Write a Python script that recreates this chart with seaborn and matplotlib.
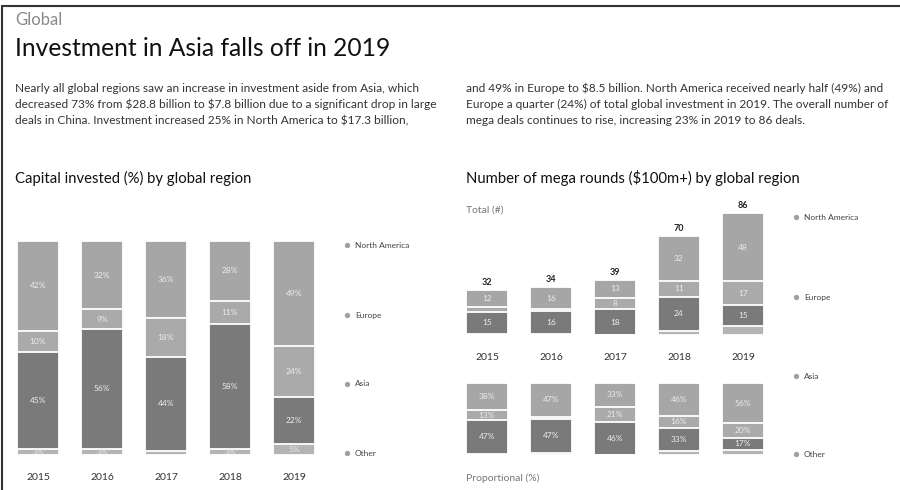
import numpy as np
import pandas as pd
import matplotlib
matplotlib.use('Agg')
import matplotlib.pyplot as plt
import seaborn as sns
from matplotlib.lines import Line2D

# years on every chart
years = ['2015', '2016', '2017', '2018', '2019']

# capital invested (%) by region
cap_na = [42, 32, 36, 28, 49]
cap_eu = [10, 9, 18, 11, 24]
cap_asia = [45, 56, 44, 58, 22]
cap_other = [3, 3, 2, 3, 5]

# number of mega rounds by region
deals_total = [32, 34, 39, 70, 86]
deals_na = [12, 16, 13, 32, 48]
deals_eu = [4, 1, 8, 11, 17]
deals_asia = [15, 16, 18, 24, 15]
deals_other = [1, 1, 0, 3, 6]

# mega rounds proportional (%)
share_na = [38, 47, 33, 46, 56]
share_eu = [13, 3, 21, 16, 20]
share_asia = [47, 47, 46, 33, 17]
share_other = [2, 3, 0, 5, 7]

colors = {'North America': '#a6a6a6', 'Europe': '#aaaaaa',
          'Asia': '#7a7a7a', 'Other': '#b4b4b4'}
order = ['Other', 'Asia', 'Europe', 'North America']  # bottom to top

sns.set_style('white')
plt.rcParams['font.family'] = ['Lato', 'DejaVu Sans']

W, H = 900, 490
fig = plt.figure(figsize=(9, 4.9), dpi=100)


def px_axes(x0, ytop, w, h):
    return fig.add_axes([x0 / W, 1 - (ytop + h) / H, w / W, h / H])


def ftext(x, y, s, **kw):
    kw.setdefault('va', 'center')
    fig.text(x / W, 1 - y / H, s, **kw)


def stacked(ax, vals, fmt, label_min, label_other, ymax):
    df = pd.DataFrame({'year': years})
    for r, v in zip(order, vals):
        df[r] = v
    tops = df[order].cumsum(axis=1)
    # draw from the tallest stack down so each layer covers the one before
    for r in reversed(order):
        sns.barplot(x=df['year'], y=tops[r], color=colors[r], saturation=1,
                    width=0.67, edgecolor='white', linewidth=1.3, ax=ax)
    for i in range(len(years)):
        base = 0
        for r in order:
            v = df[r][i]
            if v >= label_min and (label_other or r != 'Other'):
                ax.text(i, base + v / 2, fmt.format(v), ha='center', va='center',
                        fontsize=6, color='#ececec')
            base += v
    ax.set_xlim(-0.5, 4.5)
    ax.set_ylim(0, ymax)
    ax.set_xlabel('')
    ax.set_ylabel('')
    ax.set_yticks([])
    sns.despine(ax=ax, left=True, bottom=True)
    ax.tick_params(axis='x', length=0, pad=13, labelsize=7.5, labelcolor='#333333')


# left chart: capital invested
ax1 = px_axes(6, 241, 320, 214)
stacked(ax1, [cap_other, cap_asia, cap_eu, cap_na], '{}%', 3, True, 100)

# right top: count of mega rounds
ax2 = px_axes(455, 335 - 95 * 1.419, 320, 95 * 1.419)
stacked(ax2, [deals_other, deals_asia, deals_eu, deals_na], '{}', 5, False, 95)
for i, t in enumerate(deals_total):
    ax2.text(i, t + 2, str(t), ha='center', va='bottom', fontsize=6.5,
             color='#222222', fontweight='bold')

# right bottom: proportional
ax3 = px_axes(455, 383, 320, 72)
stacked(ax3, [share_other, share_asia, share_eu, share_na], '{}%', 5, False, 100)
ax3.set_xticklabels([])

# legends
for x, ys in [(347, [245, 315, 384, 453]), (796, [217, 297, 376, 454])]:
    for y, name in zip(ys, ['North America', 'Europe', 'Asia', 'Other']):
        fig.add_artist(Line2D([x / W], [1 - y / H], marker='o', markersize=2.8,
                              color='#a0a0a0', linestyle='none'))
        ftext(x + 8, y, name, fontsize=6, color='#444444')

# header text
ftext(15, 20, 'Global', fontsize=12, color='#888888')
ftext(15, 49, 'Investment in Asia falls off in 2019', fontsize=17.7, color='#111111')

left_lines = ['Nearly all global regions saw an increase in investment aside from Asia, which',
              r'decreased 73% from \$28.8 billion to \$7.8 billion due to a significant drop in large',
              r'deals in China. Investment increased 25% in North America to \$17.3 billion,']
right_lines = [r'and 49% in Europe to \$8.5 billion. North America received nearly half (49%) and',
               'Europe a quarter (24%) of total global investment in 2019. The overall number of',
               'mega deals continues to rise, increasing 23% in 2019 to 86 deals.']
for k, (a, b) in enumerate(zip(left_lines, right_lines)):
    ftext(15, 88 + 16.5 * k, a, fontsize=8.6, color='#333333')
    ftext(466, 88 + 16.5 * k, b, fontsize=8.6, color='#333333')

ftext(15, 178, 'Capital invested (%) by global region', fontsize=10.7, color='#111111')
ftext(466, 178, r'Number of mega rounds (\$100m+) by global region', fontsize=10.7, color='#111111')
ftext(466, 210, 'Total (#)', fontsize=7.5, color='#777777')
ftext(466, 478, 'Proportional (%)', fontsize=7.5, color='#777777')

# frame lines on top and left
fig.add_artist(Line2D([2 / W, 1], [1 - 6 / H, 1 - 6 / H], color='#333333', linewidth=1.5))
fig.add_artist(Line2D([2 / W, 2 / W], [0, 1 - 6 / H], color='#333333', linewidth=1.5))

fig.savefig('out.png', dpi=100)
